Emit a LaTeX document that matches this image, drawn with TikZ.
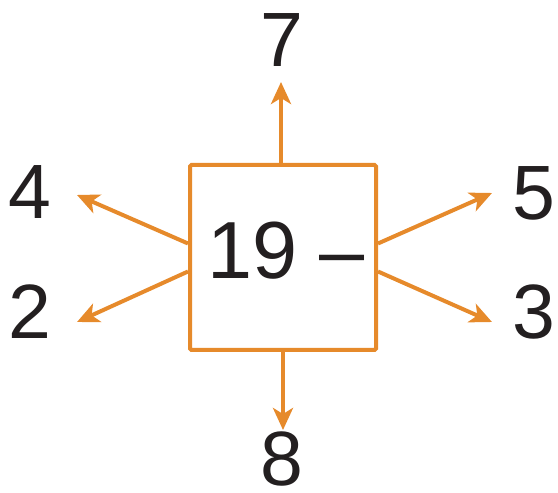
\documentclass[tikz,border=0pt]{standalone}
\usepackage{fontspec}
\setmainfont{Liberation Sans}
\usetikzlibrary{arrows.meta}
\definecolor{orangeline}{HTML}{E68A2B}
\definecolor{digitink}{HTML}{231F20}
\begin{document}
\begin{tikzpicture}[x=1pt,y=1pt,
  boxstyle/.style={draw=orangeline,line width=4pt,rounded corners=1.5pt,minimum width=186pt,minimum height=185pt,inner sep=0pt},
  arrowline/.style={draw=orangeline,line width=4pt,-{Stealth[length=22pt,width=20pt,inset=6pt]}},
  digit/.style={text=digitink,font=\fontsize{77}{80}\selectfont,inner sep=0pt}]
\useasboundingbox (0,0) rectangle (558,493);
\node[boxstyle] (box) at (283,235.5) {};
\node[digit,font=\fontsize{81}{84}\selectfont] (lbl) at (286,242) {19 –};
\coordinate (tTop) at (281,411);
\coordinate (tBot) at (283,63);
\coordinate (tUL) at (77,298);
\coordinate (tLL) at (77,171);
\coordinate (tUR) at (492,300);
\coordinate (tLR) at (492,171);
\draw[arrowline] ([xshift=-2pt]box.north) -- (tTop);
\draw[arrowline] (box.south) -- (tBot);
\draw[arrowline] ([yshift=14pt]box.west) -- (tUL);
\draw[arrowline] ([yshift=-14pt]box.west) -- (tLL);
\draw[arrowline] ([yshift=14pt]box.east) -- (tUR);
\draw[arrowline] ([yshift=-14pt]box.east) -- (tLR);
\node[digit] (n7) at (282,453) {7};
\node[digit] (n8) at (282,34) {8};
\node[digit] (n4) at (30,301) {4};
\node[digit] (n2) at (30,181) {2};
\node[digit] (n5) at (534,300) {5};
\node[digit] (n3) at (534,181) {3};
\end{tikzpicture}
\end{document}
